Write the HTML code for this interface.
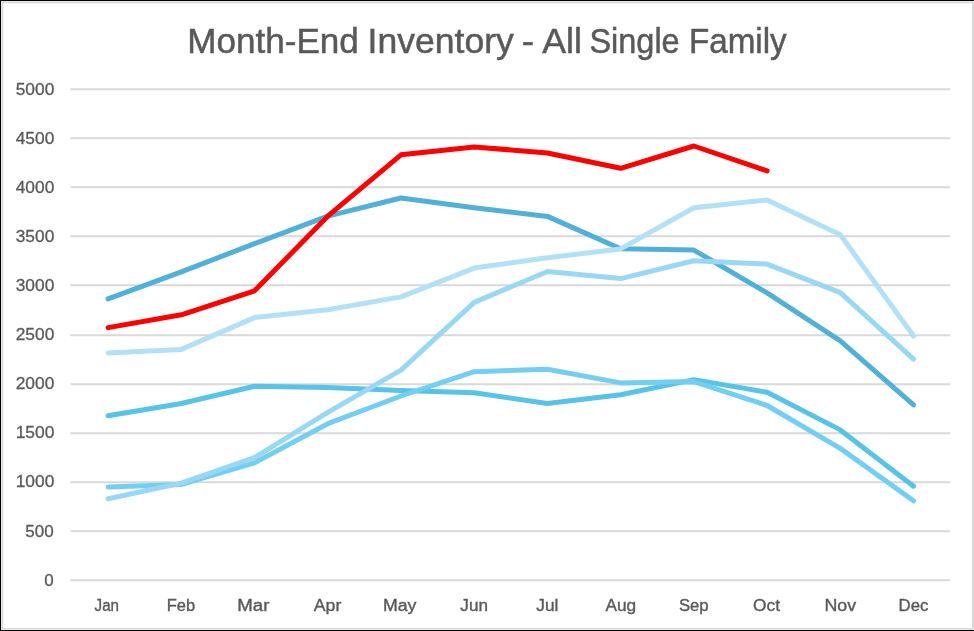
<!DOCTYPE html>
<html><head><meta charset="utf-8"><style>
html,body{margin:0;padding:0;background:#fff;}
body{width:974px;height:631px;overflow:hidden;position:relative;}
svg{position:absolute;left:0;top:0;}
text{font-family:"Liberation Sans",sans-serif;fill:#595959;}
svg{will-change:transform;}
</style></head><body>
<svg width="974" height="631" viewBox="0 0 974 631">
<rect x="0" y="0" width="974" height="631" fill="#fff"/>
<g shape-rendering="crispEdges">
<rect x="0" y="3" width="974" height="1" fill="#f4f4f4"/>
<rect x="3" y="0" width="1" height="631" fill="#f4f4f4"/>
<rect x="0" y="1" width="974" height="1" fill="#e8e8e8"/>
<rect x="0" y="629" width="974" height="1" fill="#e8e8e8"/>
<rect x="1" y="0" width="1" height="631" fill="#e8e8e8"/>
<rect x="0" y="2" width="974" height="1" fill="#d9d9d9"/>
<rect x="0" y="628" width="974" height="1" fill="#d9d9d9"/>
<rect x="2" y="2" width="1" height="627" fill="#d9d9d9"/>
<rect x="972" y="2" width="2" height="627" fill="#d9d9d9"/>
<rect x="0" y="0" width="974" height="1" fill="#000"/>
<rect x="0" y="630" width="974" height="1" fill="#000"/>
<rect x="0" y="0" width="1" height="631" fill="#000"/>
</g>
<g stroke="#d9d9d9" stroke-width="2"><line x1="70.4" y1="580.37" x2="950.2" y2="580.37"/><line x1="70.4" y1="531.37" x2="950.2" y2="531.37"/><line x1="70.4" y1="482.37" x2="950.2" y2="482.37"/><line x1="70.4" y1="433.37" x2="950.2" y2="433.37"/><line x1="70.4" y1="384.37" x2="950.2" y2="384.37"/><line x1="70.4" y1="335.37" x2="950.2" y2="335.37"/><line x1="70.4" y1="285.37" x2="950.2" y2="285.37"/><line x1="70.4" y1="236.37" x2="950.2" y2="236.37"/><line x1="70.4" y1="187.37" x2="950.2" y2="187.37"/><line x1="70.4" y1="138.37" x2="950.2" y2="138.37"/><line x1="70.4" y1="89.37" x2="950.2" y2="89.37"/></g>
<g font-size="17" text-anchor="end" stroke="#595959" stroke-width="0.3"><text x="53.6" y="585.72">0</text><text x="53.6" y="536.60">500</text><text x="54.3" y="487.48" textLength="38.58" lengthAdjust="spacingAndGlyphs">1000</text><text x="54.3" y="438.36" textLength="38.58" lengthAdjust="spacingAndGlyphs">1500</text><text x="54.3" y="389.24" textLength="38.58" lengthAdjust="spacingAndGlyphs">2000</text><text x="54.3" y="340.12" textLength="38.58" lengthAdjust="spacingAndGlyphs">2500</text><text x="54.3" y="291.00" textLength="38.58" lengthAdjust="spacingAndGlyphs">3000</text><text x="54.3" y="241.88" textLength="38.58" lengthAdjust="spacingAndGlyphs">3500</text><text x="54.3" y="192.76" textLength="38.58" lengthAdjust="spacingAndGlyphs">4000</text><text x="54.3" y="143.64" textLength="38.58" lengthAdjust="spacingAndGlyphs">4500</text><text x="54.3" y="94.52" textLength="38.58" lengthAdjust="spacingAndGlyphs">5000</text></g>
<g font-size="16"><text x="94.59" y="611" textLength="24.42" lengthAdjust="spacingAndGlyphs" stroke="#595959" stroke-width="0.35">Jan</text><text x="166.70" y="611" textLength="28.38" lengthAdjust="spacingAndGlyphs" stroke="#595959" stroke-width="0.35">Feb</text><text x="237.34" y="611" textLength="32.12" lengthAdjust="spacingAndGlyphs" stroke="#595959" stroke-width="0.35">Mar</text><text x="313.77" y="611" textLength="27.52" lengthAdjust="spacingAndGlyphs" stroke="#595959" stroke-width="0.35">Apr</text><text x="382.96" y="611" textLength="33.52" lengthAdjust="spacingAndGlyphs" stroke="#595959" stroke-width="0.35">May</text><text x="460.36" y="611" textLength="27.57" lengthAdjust="spacingAndGlyphs" stroke="#595959" stroke-width="0.35">Jun</text><text x="536.35" y="611" textLength="22.05" lengthAdjust="spacingAndGlyphs" stroke="#595959" stroke-width="0.35">Jul</text><text x="605.47" y="611" textLength="30.72" lengthAdjust="spacingAndGlyphs" stroke="#595959" stroke-width="0.35">Aug</text><text x="678.93" y="611" textLength="29.64" lengthAdjust="spacingAndGlyphs" stroke="#595959" stroke-width="0.35">Sep</text><text x="753.06" y="611" textLength="26.90" lengthAdjust="spacingAndGlyphs" stroke="#595959" stroke-width="0.35">Oct</text><text x="824.47" y="611" textLength="31.67" lengthAdjust="spacingAndGlyphs" stroke="#595959" stroke-width="0.35">Nov</text><text x="898.57" y="611" textLength="29.77" lengthAdjust="spacingAndGlyphs" stroke="#595959" stroke-width="0.35">Dec</text></g>
<g fill="none" stroke-linejoin="round" stroke-linecap="round"><polyline points="108.10,298.80 181.32,271.80 254.54,243.70 327.76,216.10 400.98,198.00 474.20,207.80 547.42,216.40 620.64,248.70 693.86,250.05 767.08,292.90 840.30,340.80 913.52,404.90" stroke="#50B0D7" stroke-width="5"/><polyline points="108.10,415.80 181.32,403.50 254.54,386.20 327.76,387.60 400.98,390.60 474.20,392.80 547.42,403.50 620.64,394.80 693.86,379.60 767.08,392.30 840.30,429.90 913.52,486.20" stroke="#57C3E9" stroke-width="5"/><polyline points="108.10,486.90 181.32,484.40 254.54,462.90 327.76,423.70 400.98,396.00 474.20,371.70 547.42,369.20 620.64,382.90 693.86,381.60 767.08,405.50 840.30,448.40 913.52,500.80" stroke="#72CEF3" stroke-width="5"/><polyline points="108.10,498.80 181.32,483.10 254.54,457.50 327.76,412.40 400.98,370.10 474.20,302.40 547.42,271.50 620.64,278.60 693.86,260.80 767.08,264.06 840.30,292.60 913.52,359.10" stroke="#98D8F4" stroke-width="5"/><polyline points="108.10,353.00 181.32,349.40 254.54,317.60 327.76,309.70 400.98,296.90 474.20,268.10 547.42,257.70 620.64,248.90 693.86,207.80 767.08,199.90 840.30,234.80 913.52,336.00" stroke="#B2E0F6" stroke-width="5"/><polyline points="108.10,327.60 181.32,314.80 254.54,290.80 327.76,216.20 400.98,154.80 474.20,146.90 547.42,153.00 620.64,168.30 693.86,146.00 767.08,170.90" stroke="#FF0000" stroke-width="5"/></g>
<g><text x="187.23" y="53" font-size="35.0" textLength="171.59" lengthAdjust="spacingAndGlyphs" stroke="#595959" stroke-width="0.5">Month-End</text><text x="367.61" y="53" font-size="35.0" textLength="146.18" lengthAdjust="spacingAndGlyphs" stroke="#595959" stroke-width="0.5">Inventory</text><text x="521.67" y="53" font-size="35.0" textLength="12.32" lengthAdjust="spacingAndGlyphs" stroke="#595959" stroke-width="0.5">-</text><text x="542.25" y="53" font-size="35.0" textLength="39.72" lengthAdjust="spacingAndGlyphs" stroke="#595959" stroke-width="0.5">All</text><text x="589.43" y="53" font-size="35.0" textLength="90.25" lengthAdjust="spacingAndGlyphs" stroke="#595959" stroke-width="0.5">Single</text><text x="688.93" y="53" font-size="35.0" textLength="97.79" lengthAdjust="spacingAndGlyphs" stroke="#595959" stroke-width="0.5">Family</text></g>
</svg>
</body></html>
